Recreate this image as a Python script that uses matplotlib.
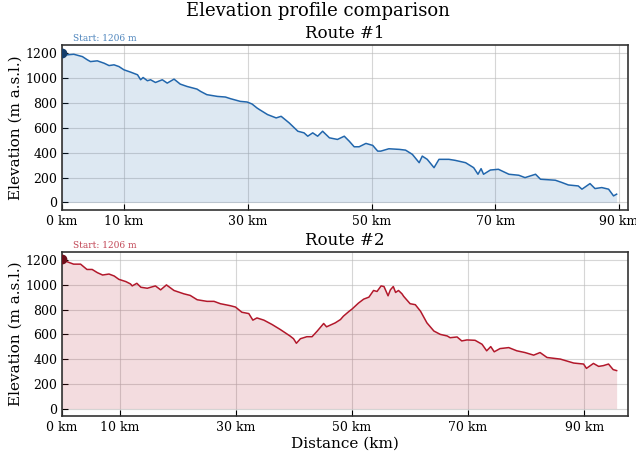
import matplotlib
matplotlib.use("Agg")
import matplotlib.pyplot as plt
import numpy as np

# values
route1_km = [0.0, 0.8, 1.9, 3.3, 4.1, 4.6, 5.7, 6.8, 7.6, 8.4, 9.2, 10.0, 11.1, 12.2, 12.7,
             13.1, 13.8, 14.3, 15.1, 16.2, 17.0, 18.1, 19.1, 20.2, 21.8, 22.4, 23.4, 25.1,
             26.4, 27.2, 28.8, 29.9, 30.7, 31.5, 31.9, 33.2, 34.6, 35.4, 36.7, 38.1, 39.1,
             39.7, 40.5, 41.3, 42.1, 43.2, 44.5, 45.6, 46.4, 47.2, 48.0, 49.1, 50.2, 51.0,
             51.5, 52.8, 54.5, 55.5, 56.6, 57.7, 58.2, 59.0, 60.1, 60.9, 62.5, 63.5, 65.2,
             66.5, 67.2, 67.7, 68.1, 69.2, 70.5, 72.2, 73.8, 74.8, 76.5, 77.3, 79.7, 80.8,
             81.8, 83.4, 84.0, 85.3, 86.1, 87.2, 88.3, 89.1, 89.6]
route1_elev = [1206, 1187, 1192, 1173, 1147, 1133, 1139, 1120, 1101, 1107, 1093, 1067, 1048,
               1027, 987, 1005, 979, 987, 965, 987, 960, 992, 952, 933, 912, 893, 867, 853,
               848, 835, 813, 808, 792, 760, 747, 707, 680, 693, 640, 573, 560, 533, 560,
               533, 573, 520, 507, 533, 493, 448, 448, 475, 459, 413, 413, 432, 427, 421,
               387, 320, 373, 347, 280, 347, 347, 339, 320, 280, 227, 272, 227, 261, 267,
               227, 219, 200, 227, 187, 179, 160, 141, 133, 107, 152, 112, 120, 107, 53, 67]

route2_km = [0.0, 0.9, 2.0, 3.2, 4.3, 5.2, 6.1, 7.0, 8.1, 9.0, 9.8, 11.0, 11.8, 12.1, 12.9,
             13.6, 14.7, 16.1, 17.0, 18.0, 19.3, 21.0, 22.1, 23.3, 25.0, 26.2, 27.3, 29.0,
             29.9, 31.0, 32.2, 32.9, 33.6, 34.8, 36.2, 37.6, 39.3, 39.9, 40.4, 41.1, 42.2,
             43.1, 44.0, 45.1, 45.6, 47.1, 48.0, 48.5, 49.5, 50.0, 51.1, 52.0, 52.9, 53.7,
             54.3, 55.0, 55.5, 56.2, 56.6, 57.1, 57.5, 58.0, 58.6, 58.9, 60.0, 60.9, 61.8,
             62.9, 64.1, 65.2, 66.4, 66.9, 68.1, 68.9, 69.8, 71.2, 72.4, 73.2, 73.9, 74.5,
             75.5, 77.0, 78.4, 79.8, 81.3, 82.4, 83.6, 85.9, 88.2, 89.9, 90.4, 91.6, 92.5,
             93.3, 94.2, 95.0, 95.6]
route2_elev = [1206, 1187, 1168, 1168, 1125, 1125, 1099, 1080, 1088, 1072, 1045, 1027, 1008,
               992, 1013, 981, 973, 992, 960, 1000, 955, 928, 915, 880, 867, 867, 848, 832,
               821, 779, 768, 715, 733, 715, 680, 640, 587, 565, 528, 565, 581, 581, 627,
               688, 661, 693, 720, 747, 787, 805, 853, 885, 901, 955, 947, 992, 987, 912,
               960, 987, 939, 955, 928, 907, 848, 840, 787, 693, 627, 600, 587, 573, 579,
               547, 555, 552, 520, 467, 501, 459, 485, 493, 467, 453, 432, 453, 413, 400,
               368, 360, 325, 365, 341, 347, 360, 315, 307]

routes = [("Route #1", route1_km, route1_elev, "#2166ac", "#143d6b"),
          ("Route #2", route2_km, route2_elev, "#b2182b", "#6e0f1b")]
xticks = [0, 10, 30, 50, 70, 90]
yticks = [0, 200, 400, 600, 800, 1000, 1200]

plt.rcParams['font.family'] = 'DejaVu Serif'

fig = plt.figure(figsize=(6.36, 4.57), dpi=100)
boxes = [[0.0975, 0.5405, 0.8895, 0.361], [0.0975, 0.0897, 0.8895, 0.3589]]

for (name, km, elev, col, dark), box in zip(routes, boxes):
    ax = fig.add_axes(box)
    km = np.array(km)
    elev = np.array(elev)
    ax.fill_between(km, 0, elev, color=col, alpha=0.15, linewidth=0)
    ax.plot(km, elev, color=col, linewidth=1.1)
    ax.plot(km[0], elev[0], 'o', color=dark, markersize=6, zorder=5)
    ax.annotate("Start: %d m" % elev[0], xy=(km[0], elev[0]), xytext=(8, 7),
                textcoords='offset points', fontsize=6.5, color=col, alpha=0.8,
                ha='left', va='bottom', annotation_clip=False)
    ax.set_xlim(0, km[-1] * 1.02)
    ax.set_ylim(-0.05 * elev[0], 1.05 * elev[0])
    ax.set_xticks(xticks)
    ax.set_xticklabels(["%d km" % t for t in xticks])
    ax.set_yticks(yticks)
    ax.tick_params(direction='in', length=4, labelsize=9)
    ax.grid(True, color='#bbbbbb', alpha=0.6, linewidth=0.8)
    ax.set_axisbelow(True)
    for s in ax.spines.values():
        s.set_color('#333333')
        s.set_linewidth(1.2)
    ax.set_title(name, fontsize=12, pad=5)
    ax.set_ylabel("Elevation (m a.s.l.)", fontsize=11, labelpad=2)

ax.set_xlabel("Distance (km)", fontsize=11, labelpad=2)
fig.suptitle("Elevation profile comparison", fontsize=13, y=0.995)

fig.savefig("out.png", dpi=100)
